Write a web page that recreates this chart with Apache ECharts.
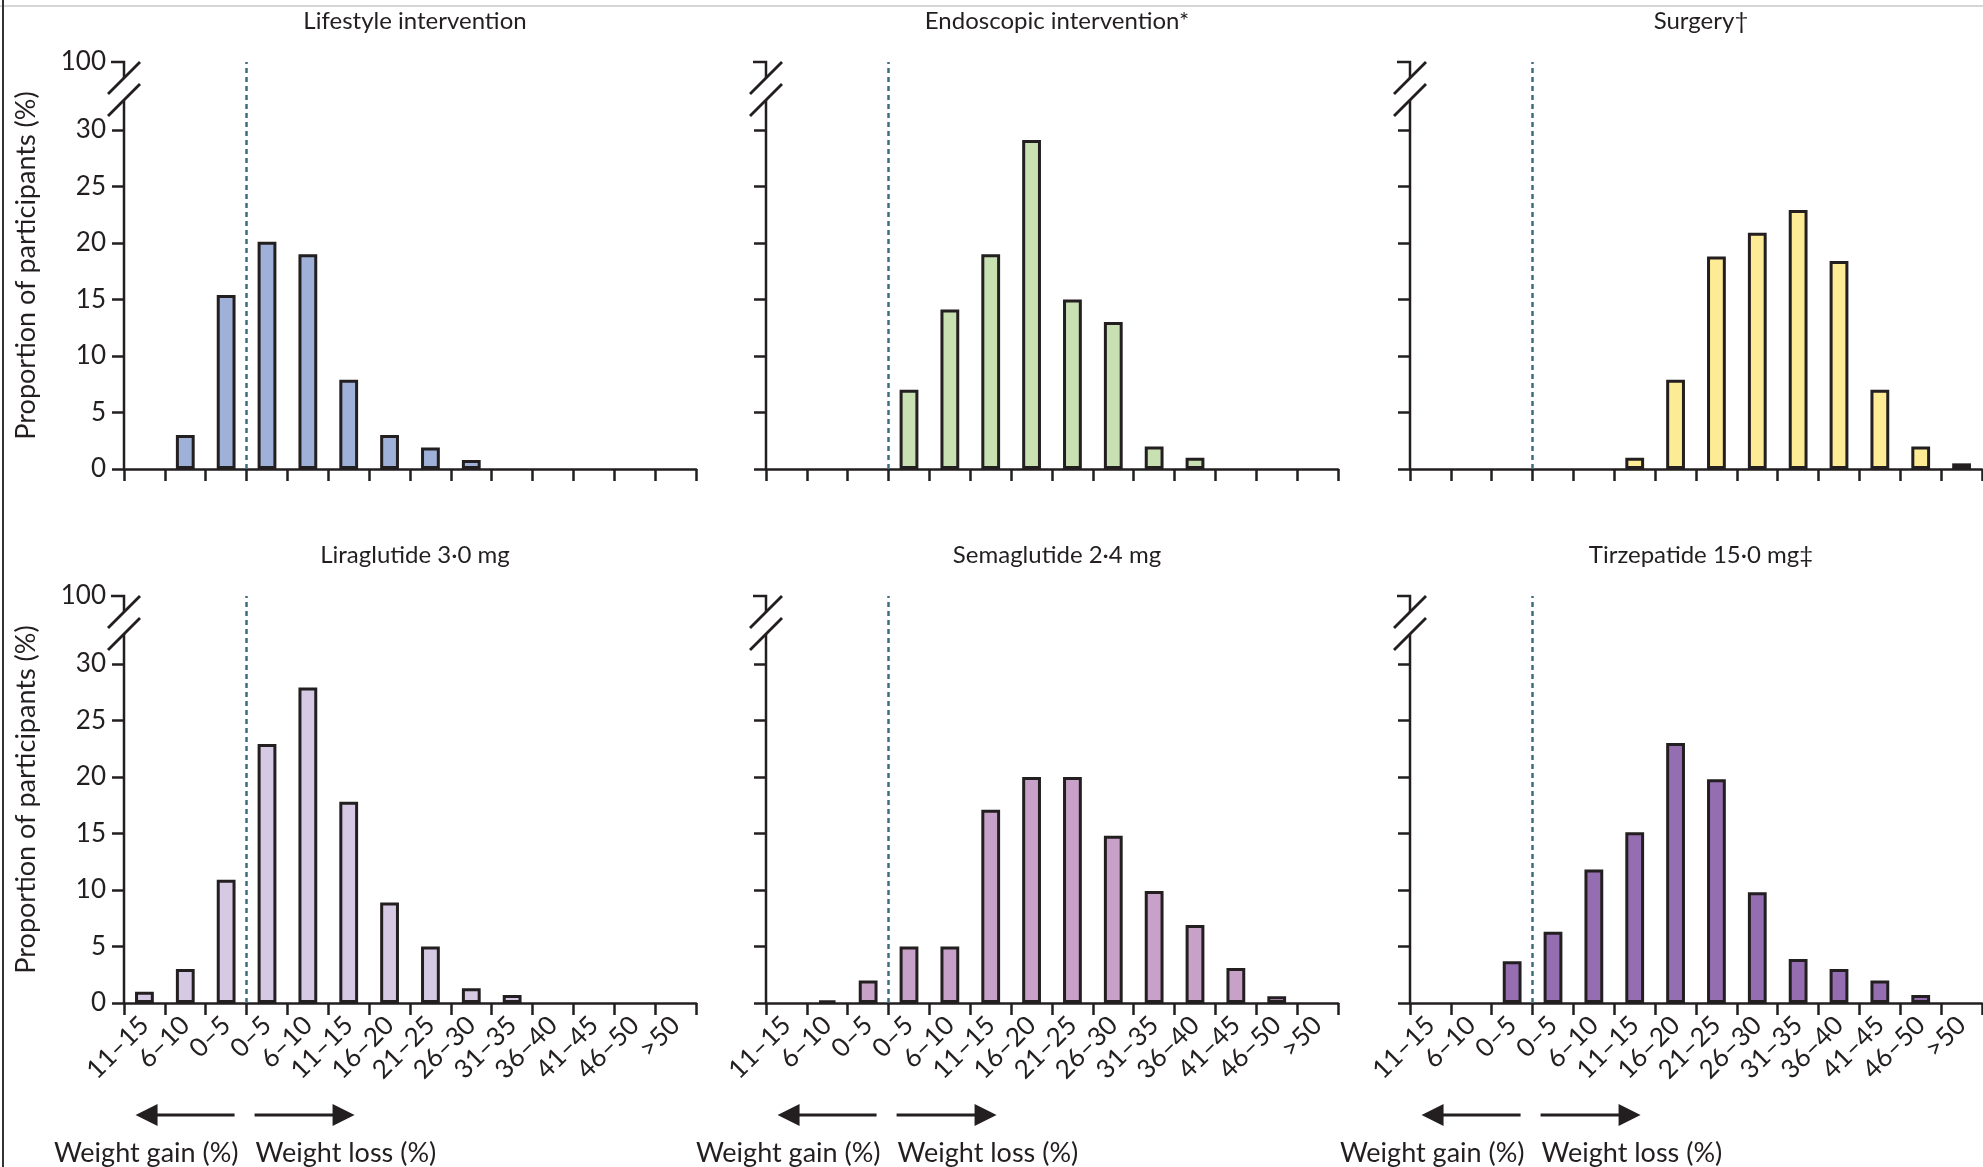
<!DOCTYPE html>
<html>
<head>
<meta charset="utf-8">
<script src="https://cdn.jsdelivr.net/npm/echarts@6/dist/echarts.min.js"></script>
<style>
  html, body { margin: 0; padding: 0; background: #fff; }
  #chart { width: 1983px; height: 1167px; }
</style>
</head>
<body>
<div id="chart"></div>
<script>
// weight change bins: 3 gain bins then weight loss bins
const categories = ['11–15', '6–10', '0–5', '0–5', '6–10', '11–15', '16–20', '21–25', '26–30', '31–35', '36–40', '41–45', '46–50', '>50'];
const gainLossSplit = 3;           // first weight-loss bin
const yTicks = [0, 5, 10, 15, 20, 25, 30];
const breakTickValue = 36;          // where the "100" tick sits above the break
const breakTickLabel = '100';

const titles = ['Lifestyle intervention', 'Endoscopic intervention*', 'Surgery†',
                'Liraglutide 3·0 mg', 'Semaglutide 2·4 mg', 'Tirzepatide 15·0 mg‡'];

const lifestyle   = [0, 3, 15.4, 20.1, 19, 7.9, 3, 1.9, 0.8, 0, 0, 0, 0, 0];
const endoscopic  = [0, 0, 0, 7, 14.1, 19, 29.1, 15, 13, 2, 1, 0, 0, 0];
const surgery     = [0, 0, 0, 0, 0, 1, 7.9, 18.8, 20.9, 22.9, 18.4, 7, 2, 0.5];
const liraglutide = [1, 3, 10.9, 22.9, 27.9, 17.8, 8.9, 5, 1.3, 0.7, 0, 0, 0, 0];
const semaglutide = [0, 0.2, 2, 5, 5, 17.1, 20, 20, 14.8, 9.9, 6.9, 3.1, 0.6, 0];
const tirzepatide = [0, 0, 3.7, 6.3, 11.8, 15.1, 23, 19.8, 9.8, 3.9, 3, 2, 0.7, 0];

const seriesData = [lifestyle, endoscopic, surgery, liraglutide, semaglutide, tirzepatide];
const colors = ['#9fb0d9', '#c9e0b3', '#fdeb95', '#d5c9e3', '#c7a1c7', '#946eb1'];

const ink = '#231f20';
const font = 'Lato';
const colLeft = [124, 766, 1410];
const rowTop = [62, 596];
const gridW = 572, gridH = 407;

const chart = echarts.init(document.getElementById('chart'));

const grids = [], xAxes = [], hiddenX = [], yAxes = [], series = [], titleList = [];
for (let i = 0; i < 6; i++) {
    const row = Math.floor(i / 3), col = i % 3;
    grids.push({left: colLeft[col], top: rowTop[row], width: gridW, height: gridH});
    titleList.push({
        text: titles[i],
        left: colLeft[col] + gridW / 2,
        top: rowTop[row] - 58,
        textAlign: 'center',
        textStyle: {fontFamily: font, fontSize: 24, fontWeight: 'normal', color: ink}
    });
    xAxes.push({
        type: 'category',
        gridIndex: i,
        data: categories,
        boundaryGap: true,
        axisLine: {lineStyle: {color: ink, width: 2.5}},
        axisTick: {show: true, interval: 0, length: 12, lineStyle: {color: ink, width: 2.5}},
        axisLabel: {
            show: row === 1,
            interval: 0,
            rotate: 45,
            margin: 18,
            fontFamily: font,
            fontSize: 26,
            color: ink
        }
    });
    hiddenX.push({type: 'value', gridIndex: i, min: 0, max: categories.length, show: false});
    yAxes.push({
        type: 'value',
        gridIndex: i,
        min: 0,
        max: breakTickValue,
        splitLine: {show: false},
        axisLine: {show: false},
        axisTick: {show: true, length: 12, customValues: yTicks, lineStyle: {color: ink, width: 2.5}},
        axisLabel: {
            show: col === 0,
            customValues: yTicks.concat([breakTickValue]),
            formatter: v => v === breakTickValue ? breakTickLabel : String(v),
            margin: 18,
            fontFamily: font,
            fontSize: 26,
            color: ink
        },
        name: col === 0 ? 'Proportion of participants (%)' : '',
        nameLocation: 'middle',
        nameGap: 84,
        nameTextStyle: {fontFamily: font, fontSize: 27, color: ink}
    });
    series.push({
        type: 'bar',
        xAxisIndex: i,
        yAxisIndex: i,
        // empty bins get no outline so nothing sits on the axis
        data: seriesData[i].map(v => v === 0 ? {value: v, itemStyle: {borderWidth: 0}} : v),
        barWidth: '46%',
        itemStyle: {color: colors[i], borderColor: ink, borderWidth: 3},
        silent: true
    });
    series.push({
        type: 'line',
        xAxisIndex: 6 + i,
        yAxisIndex: i,
        data: [],
        silent: true,
        markLine: {
            symbol: 'none',
            silent: true,
            animation: false,
            label: {show: false},
            lineStyle: {color: '#3d6d83', type: [5, 4], width: 2.5},
            data: [{xAxis: gainLossSplit}]
        }
    });
}

chart.setOption({
    animation: false,
    title: titleList,
    grid: grids,
    xAxis: xAxes.concat(hiddenX),
    yAxis: yAxes,
    series: series
});

// axis breaks, arrows, frame
const g = [];
const stroke = (points, w) => ({type: 'polyline', shape: {points}, style: {stroke: ink, lineWidth: w || 2.5, fill: null}, z: 10});
for (let i = 0; i < 6; i++) {
    const row = Math.floor(i / 3);
    const [x0, yTop] = chart.convertToPixel({xAxisIndex: 6 + i, yAxisIndex: i}, [0, breakTickValue]);
    const [xd, yBase] = chart.convertToPixel({xAxisIndex: 6 + i, yAxisIndex: i}, [gainLossSplit, 0]);
    g.push(stroke([[x0 - 13, yTop], [x0, yTop], [x0, yTop + 16]]));
    g.push(stroke([[x0 - 16, yTop + 32], [x0 + 16, yTop]], 2.8));
    g.push(stroke([[x0 - 16, yTop + 54], [x0 + 16, yTop + 22]], 2.8));
    g.push(stroke([[x0, yTop + 38], [x0, yBase]]));
    if (row === 1) {
        const yA = yBase + 112, yT = yBase + 150;
        g.push(stroke([[xd - 90, yA], [xd - 12, yA]], 3));
        g.push({type: 'polygon', shape: {points: [[xd - 111, yA], [xd - 89, yA - 11], [xd - 89, yA + 11]]}, style: {fill: ink}});
        g.push(stroke([[xd + 8, yA], [xd + 88, yA]], 3));
        g.push({type: 'polygon', shape: {points: [[xd + 108, yA], [xd + 86, yA - 11], [xd + 86, yA + 11]]}, style: {fill: ink}});
        g.push({type: 'text', x: xd - 8, y: yT, style: {text: 'Weight gain (%)', font: '27px Lato', fill: ink, align: 'right', verticalAlign: 'middle'}});
        g.push({type: 'text', x: xd + 9, y: yT, style: {text: 'Weight loss (%)', font: '27px Lato', fill: ink, align: 'left', verticalAlign: 'middle'}});
    }
}
g.push({type: 'line', shape: {x1: 0, y1: 6, x2: 1983, y2: 6}, style: {stroke: '#c8c8c8', lineWidth: 1.5}});
g.push({type: 'line', shape: {x1: 3, y1: 0, x2: 3, y2: 1167}, style: {stroke: '#333', lineWidth: 2}});

chart.setOption({graphic: g});
</script>
</body>
</html>
